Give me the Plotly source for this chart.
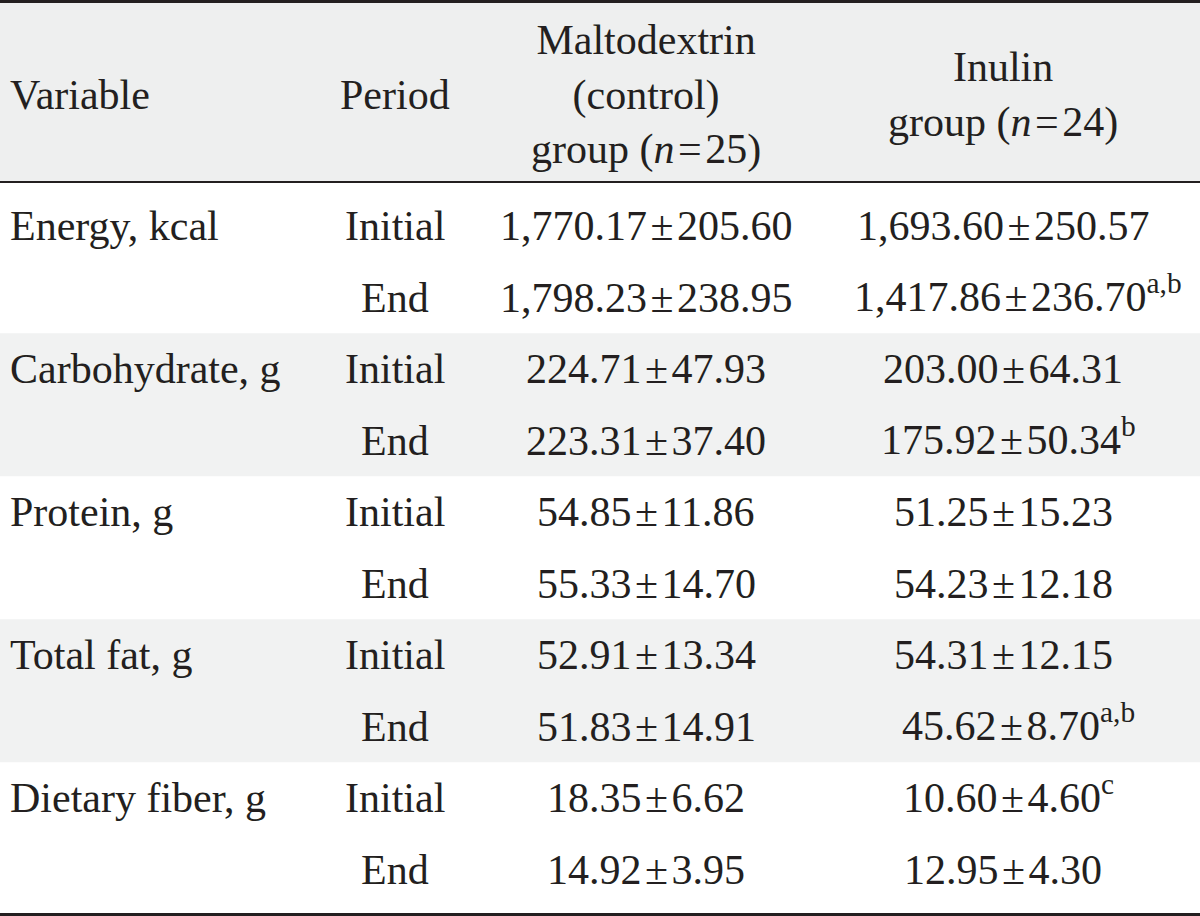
import plotly.graph_objects as go

# ---- data ----
variables = ["Energy, kcal", "Carbohydrate, g", "Protein, g", "Total fat, g", "Dietary fiber, g"]
periods = ["Initial", "End"]
malto_mean = [[1770.17, 1798.23], [224.71, 223.31], [54.85, 55.33], [52.91, 51.83], [18.35, 14.92]]
malto_sd = [[205.60, 238.95], [47.93, 37.40], [11.86, 14.70], [13.34, 14.91], [6.62, 3.95]]
inulin_mean = [[1693.60, 1417.86], [203.00, 175.92], [51.25, 54.23], [54.31, 45.62], [10.60, 12.95]]
inulin_sd = [[250.57, 236.70], [64.31, 50.34], [15.23, 12.18], [12.15, 8.70], [4.60, 4.30]]
inulin_sup = [["", "a,b"], ["", "b"], ["", ""], ["", "a,b"], ["c", ""]]
headers = ["Variable", "Period",
           "Maltodextrin<br>(control)<br>group (<i>n</i>\u200a=\u200a25)",
           "Inulin<br>group (<i>n</i>\u200a=\u200a24)"]

# ---- layout constants ----
W, H = 1200, 916
FONT = "Liberation Serif"
FS = 42
TXT = "#231f20"
HEAD_FILL = "#eeefef"
ROW_FILL = "#f1f2f2"
col_x = [8, 395, 646, 1003]
header_y = 95
row0_y = 226
row_step = 71.5
header_bottom = 183
table_bottom = 913
PM = "\u200a±\u200a"

def fmt(v):
    return "{:,.2f}".format(v)

fig = go.Figure()
fig.add_trace(go.Scatter(x=[0, W], y=[0, H], mode="markers",
                         marker=dict(opacity=0), hoverinfo="skip", showlegend=False))

shapes = []
shapes.append(dict(type="rect", xref="x", yref="y", x0=0, x1=W, y0=0, y1=header_bottom,
                   fillcolor=HEAD_FILL, line=dict(width=0), layer="below"))
for g in range(len(variables)):
    top = row0_y + row_step * (2 * g) - row_step / 2
    bot = row0_y + row_step * (2 * g + 1) + row_step / 2
    if g == 0:
        top = header_bottom
    if g == len(variables) - 1:
        bot = table_bottom
    if g % 2 == 1:
        shapes.append(dict(type="rect", xref="x", yref="y", x0=0, x1=W, y0=top, y1=bot,
                           fillcolor=ROW_FILL, line=dict(width=0), layer="below"))
shapes.append(dict(type="line", xref="x", yref="y", x0=0, x1=W, y0=1.5, y1=1.5,
                   line=dict(color=TXT, width=3)))
shapes.append(dict(type="line", xref="x", yref="y", x0=0, x1=W, y0=header_bottom - 1, y1=header_bottom - 1,
                   line=dict(color=TXT, width=2)))
shapes.append(dict(type="line", xref="x", yref="y", x0=0, x1=W, y0=table_bottom + 1.5, y1=table_bottom + 1.5,
                   line=dict(color=TXT, width=3)))

ann = []
def add(text, x, y, anchor="center", xshift=0, yshift=0):
    ann.append(dict(text=text, x=x, y=y, xref="x", yref="y", xanchor=anchor, yanchor="middle",
                    showarrow=False, xshift=xshift, yshift=yshift,
                    font=dict(family=FONT, size=FS, color=TXT)))

for i, h in enumerate(headers):
    add(h, col_x[i], header_y, "left" if i == 0 else "center")

for g, var in enumerate(variables):
    for p, per in enumerate(periods):
        y = row0_y + row_step * (2 * g + p)
        if p == 0:
            add(var, col_x[0], y, "left")
        add(per, col_x[1], y)
        add(fmt(malto_mean[g][p]) + PM + fmt(malto_sd[g][p]), col_x[2], y)
        sup = inulin_sup[g][p]
        t = fmt(inulin_mean[g][p]) + PM + fmt(inulin_sd[g][p])
        shift, ys = 0, 0
        if sup:
            t += "<sup>" + sup + "</sup>"
            shift = len(sup) * 5
            ys = 4
        add(t, col_x[3], y, xshift=shift, yshift=ys)

fig.update_layout(
    width=W, height=H, margin=dict(l=0, r=0, t=0, b=0),
    paper_bgcolor="white", plot_bgcolor="white",
    xaxis=dict(range=[0, W], visible=False, fixedrange=True),
    yaxis=dict(range=[H, 0], visible=False, fixedrange=True),
    shapes=shapes, annotations=ann, showlegend=False,
)
fig.write_html("out.html", config={"displayModeBar": False},
               post_script="document.body.style.margin='0';")
